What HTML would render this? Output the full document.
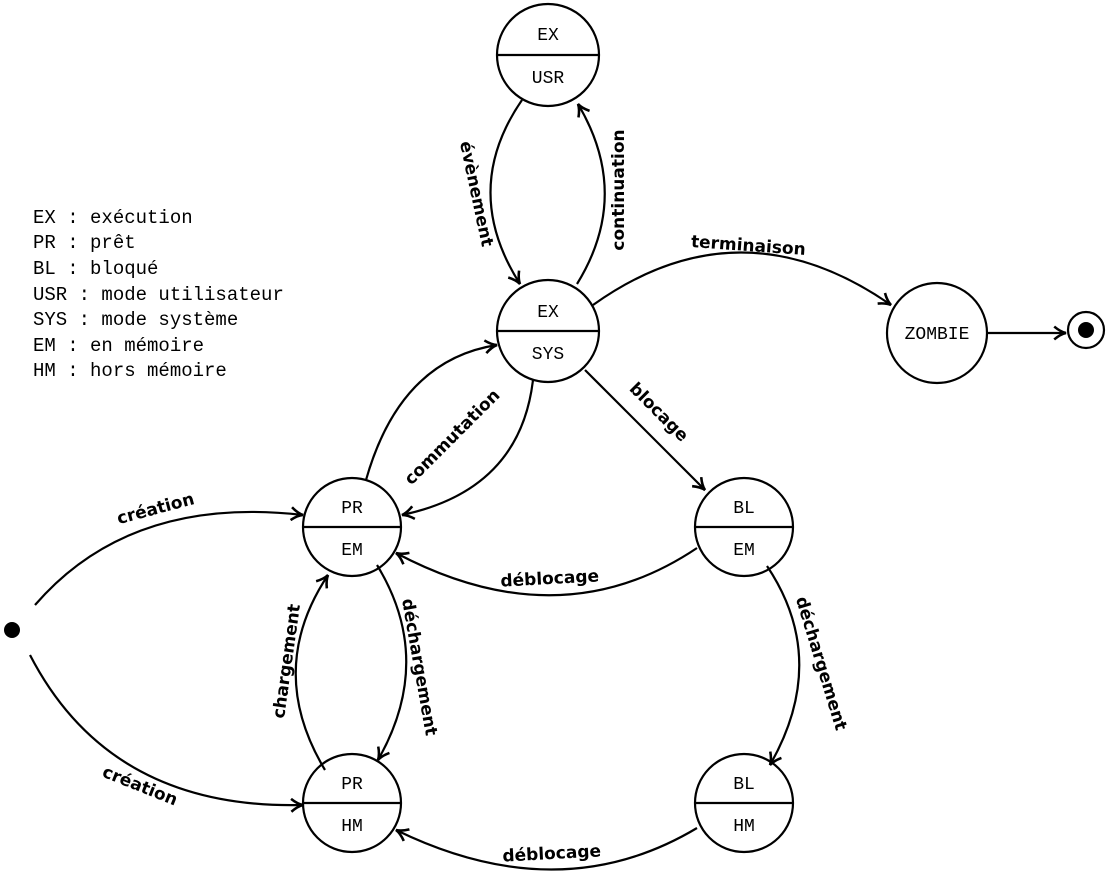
<!DOCTYPE html>
<html><head><meta charset="utf-8"><style>
body{margin:0;background:#fff}
svg{display:block}
.m{font-family:"Liberation Mono",monospace;font-size:18px}
.g{font-family:"Liberation Mono",monospace;font-size:19px}
.l{font-family:"DejaVu Sans","Liberation Sans",sans-serif;font-size:17px;font-weight:bold}
</style></head><body>
<svg width="1116" height="874" viewBox="0 0 1116 874" xmlns="http://www.w3.org/2000/svg">
<defs>
<marker id="a" viewBox="0 0 14 14" refX="12" refY="7" markerWidth="15" markerHeight="15" markerUnits="userSpaceOnUse" orient="auto">
<path d="M1,1 Q7,6 12,7 Q7,8 1,13" fill="none" stroke="#000" stroke-width="2.4"/>
</marker>
</defs>
<g fill="none" stroke="#000" stroke-width="2.2">
<circle cx="548" cy="55" r="51"/><line x1="497" y1="55" x2="599" y2="55"/>
<circle cx="548" cy="331" r="51"/><line x1="497" y1="331" x2="599" y2="331"/>
<circle cx="352" cy="527" r="49"/><line x1="303" y1="527" x2="401" y2="527"/>
<circle cx="352" cy="803" r="49"/><line x1="303" y1="803" x2="401" y2="803"/>
<circle cx="744" cy="527" r="49"/><line x1="695" y1="527" x2="793" y2="527"/>
<circle cx="744" cy="803" r="49"/><line x1="695" y1="803" x2="793" y2="803"/>
<circle cx="937" cy="333" r="50"/>
<circle cx="1086" cy="330" r="18"/>
<g marker-end="url(#a)">
<path d="M522,100 Q460,190 520,284"/>
<path d="M577,284 Q632,195 578,104"/>
<path d="M593,305 Q740,200 891,305"/>
<path d="M987,333 L1066,333"/>
<path d="M585,370 L705,490"/>
<path d="M533,380 Q520,490 402,515"/>
<path d="M366,480 Q400,360 497,345"/>
<path d="M697,548 Q560,640 396,553"/>
<path d="M767,566 Q830,660 770,765"/>
<path d="M697,828 Q560,910 396,830"/>
<path d="M325,770 Q265,670 328,575"/>
<path d="M377,565 Q435,660 378,760"/>
<path d="M35,605 Q130,495 303,515"/>
<path d="M30,655 Q110,810 303,805"/>
</g>
</g>
<circle cx="12" cy="630" r="8"/>
<circle cx="1086" cy="330" r="8"/>
<g class="m" text-anchor="middle">
<text x="548" y="40">EX</text><text x="548" y="83">USR</text>
<text x="548" y="317">EX</text><text x="548" y="359">SYS</text>
<text x="352" y="513">PR</text><text x="352" y="555">EM</text>
<text x="352" y="789">PR</text><text x="352" y="831">HM</text>
<text x="744" y="513">BL</text><text x="744" y="555">EM</text>
<text x="744" y="789">BL</text><text x="744" y="831">HM</text>
<text x="937" y="339">ZOMBIE</text>
</g>
<g class="g">
<text x="33" y="223">EX : exécution</text>
<text x="33" y="248">PR : prêt</text>
<text x="33" y="274">BL : bloqué</text>
<text x="33" y="300">USR : mode utilisateur</text>
<text x="33" y="325">SYS : mode système</text>
<text x="33" y="351">EM : en mémoire</text>
<text x="33" y="376">HM : hors mémoire</text>
</g>
<g class="l" text-anchor="middle">
<text transform="translate(471,195) rotate(78)">évènement</text>
<text transform="translate(624,190) rotate(-90)">continuation</text>
<text transform="translate(748,251) rotate(4)">terminaison</text>
<text transform="translate(655,416) rotate(45)">blocage</text>
<text transform="translate(456,441) rotate(-45)">commutation</text>
<text transform="translate(550,584) rotate(-3)">déblocage</text>
<text transform="translate(816,665) rotate(73)">déchargement</text>
<text transform="translate(552,859) rotate(-3)">déblocage</text>
<text transform="translate(292,662) rotate(-82)">chargement</text>
<text transform="translate(414,668) rotate(80)">déchargement</text>
<text transform="translate(157,514) rotate(-15)">création</text>
<text transform="translate(138,791) rotate(22)">création</text>
</g>
</svg>
</body></html>
